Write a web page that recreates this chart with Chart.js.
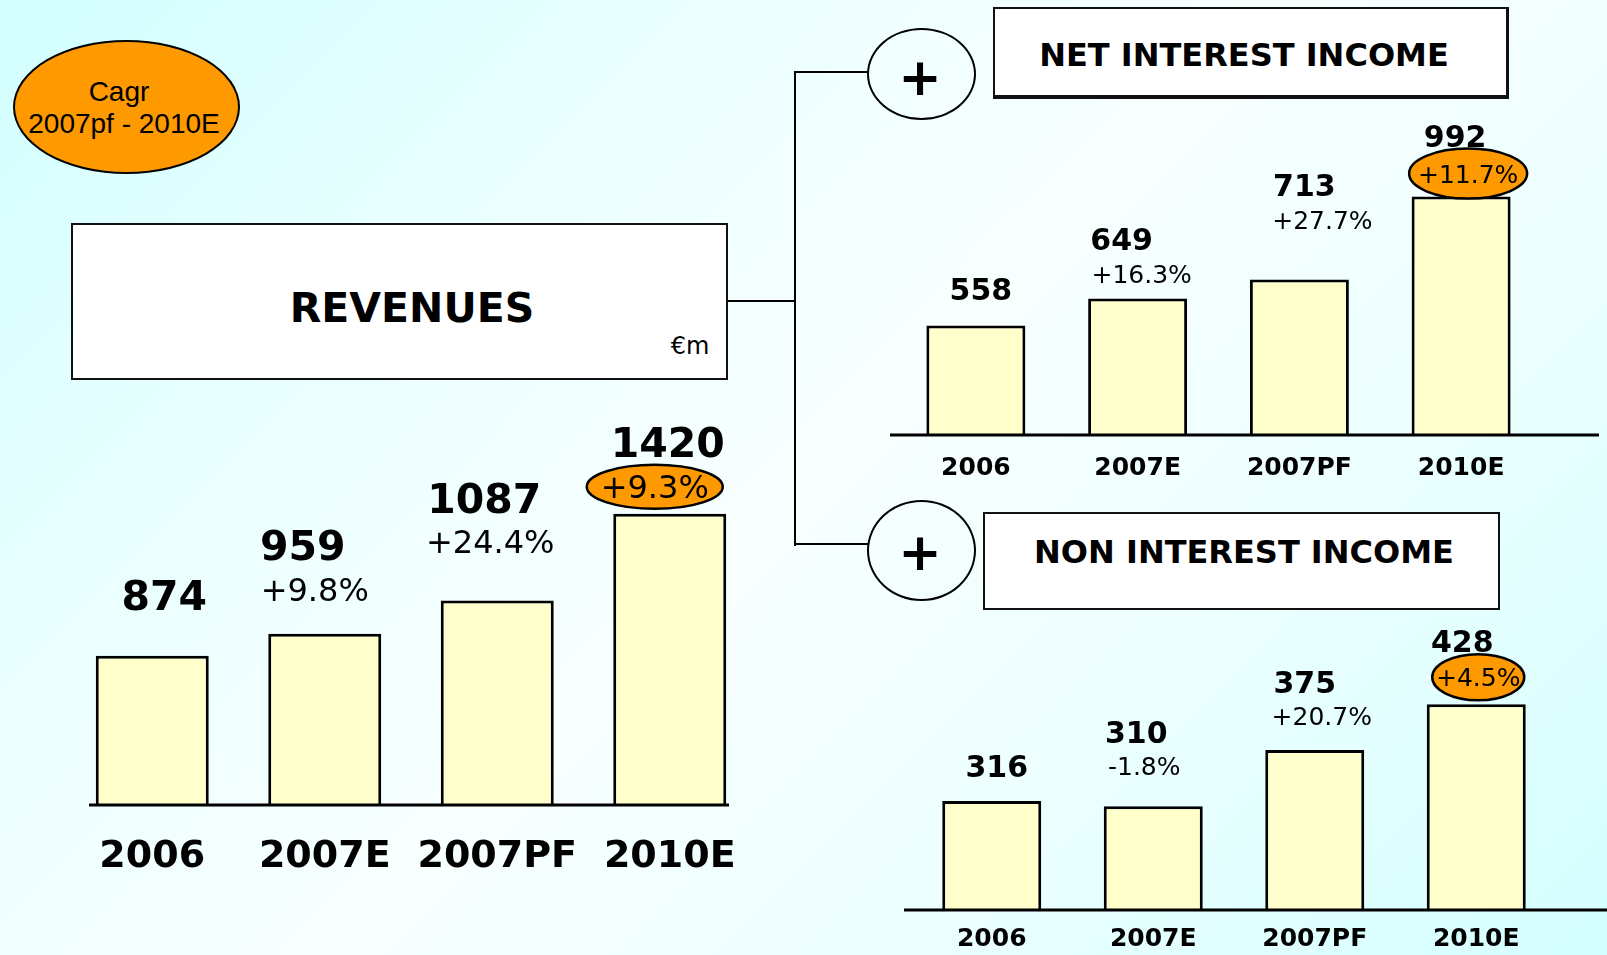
<!DOCTYPE html>
<html>
<head>
<meta charset="utf-8">
<script src="https://cdn.jsdelivr.net/npm/chart.js@4.4.1/dist/chart.umd.min.js"></script>
<style>
  html, body { margin: 0; padding: 0; }
  body {
    width: 1607px; height: 955px; position: relative; overflow: hidden;
    background: linear-gradient(135deg, #d2ffff 0%, #ebffff 28%, #f8ffff 50%, #ecffff 72%, #d4ffff 100%);
    font-family: "DejaVu Sans", sans-serif; color: #000;
  }
  canvas.layer { position: absolute; left: 0; top: 0; pointer-events: none; }
  .box { position: absolute; background: #fff; border: 2px solid #111; box-sizing: border-box; }
  .line { position: absolute; background: #000; }
  .oval { position: absolute; border: 2px solid #000; border-radius: 50%; box-sizing: border-box; }
  .ctext { position: absolute; transform: translate(-50%, -50%); white-space: nowrap; }
</style>
</head>
<body>
  <!-- CAGR badge -->
  <div class="oval" style="left:13px;top:40px;width:227px;height:134px;background:#ff9900;border-width:2.5px;"></div>
  <div class="ctext" style="left:119px;top:92px;font-family:'Liberation Sans';font-size:28px;">Cagr</div>
  <div class="ctext" style="left:124px;top:124px;font-family:'Liberation Sans';font-size:28px;">2007pf - 2010E</div>

  <!-- connectors -->
  <div class="line" style="left:728px;top:300px;width:68px;height:2px;"></div>
  <div class="line" style="left:794px;top:71px;width:2px;height:475px;"></div>
  <div class="line" style="left:794px;top:71px;width:74px;height:2px;"></div>
  <div class="line" style="left:794px;top:543px;width:74px;height:2px;"></div>

  <!-- Revenues title box -->
  <div class="box" style="left:71px;top:223px;width:657px;height:157px;"></div>
  <div class="ctext" style="left:412px;top:308px;font-weight:bold;font-size:41px;">REVENUES</div>
  <div class="ctext" style="left:690px;top:346px;font-size:24px;">€m</div>

  <!-- plus circles -->
  <div class="oval" style="left:867px;top:28px;width:109px;height:92px;"></div>
  <div class="ctext" style="left:920px;top:77px;font-weight:bold;font-size:52px;">+</div>
  <div class="oval" style="left:867px;top:500px;width:109px;height:101px;"></div>
  <div class="ctext" style="left:920px;top:552px;font-weight:bold;font-size:52px;">+</div>

  <!-- segment title boxes -->
  <div class="box" style="left:993px;top:7px;width:516px;height:92px;border-bottom-width:4px;border-right-width:3px;"></div>
  <div class="ctext" style="left:1244px;top:55px;font-weight:bold;font-size:32px;">NET INTEREST INCOME</div>
  <div class="box" style="left:983px;top:512px;width:517px;height:98px;"></div>
  <div class="ctext" style="left:1244px;top:552px;font-weight:bold;font-size:32px;">NON INTEREST INCOME</div>

  <canvas id="revChart" class="layer" width="1607" height="975"></canvas>
  <canvas id="niiChart" class="layer" width="1607" height="975"></canvas>
  <canvas id="nonChart" class="layer" width="1607" height="975"></canvas>

<script>
// ---------------- data ----------------
const categories = ['2006', '2007E', '2007PF', '2010E'];

const revenues        = [874, 959, 1087, 1420];
const revenuesGrowth  = [null, '+9.8%', '+24.4%', '+9.3%'];

const netInterestIncome       = [558, 649, 713, 992];
const netInterestIncomeGrowth = [null, '+16.3%', '+27.7%', '+11.7%'];

const nonInterestIncome       = [316, 310, 375, 428];
const nonInterestIncomeGrowth = [null, '-1.8%', '+20.7%', '+4.5%'];

// ---------------- drawing ----------------
const FONT = '"DejaVu Sans", sans-serif';
const CAP = 0.3645; // half cap-height of DejaVu Sans, in em

const slideLabels = {
  id: 'slideLabels',
  afterDatasetsDraw(chart, args, o) {
    const ctx = chart.ctx;
    const meta = chart.getDatasetMeta(0);
    const values = chart.data.datasets[0].data;
    const growth = o.growth;
    const ys = chart.scales.y;
    const yb = ys.getPixelForValue(ys.min);
    ctx.save();
    ctx.strokeStyle = '#000';
    ctx.lineWidth = o.baseWidth;
    ctx.beginPath();
    ctx.moveTo(o.baseFrom, yb);
    ctx.lineTo(o.baseTo, yb);
    ctx.stroke();

    ctx.textAlign = 'center';
    ctx.textBaseline = 'alphabetic';
    meta.data.forEach((bar, i) => {
      const top = bar.y;
      ctx.fillStyle = '#000';
      ctx.font = 'bold ' + o.valueSize + 'px ' + FONT;
      ctx.fillText(String(values[i]), bar.x + o.valDx[i], top - o.valDy[i] + CAP * o.valueSize);
      if (growth[i]) {
        const px = bar.x + o.pctDx[i];
        const py = top - o.pctDy[i];
        if (i === growth.length - 1) {
          ctx.beginPath();
          ctx.ellipse(px, py, o.ovalRx, o.ovalRy, 0, 0, Math.PI * 2);
          ctx.fillStyle = '#ff9900';
          ctx.fill();
          ctx.lineWidth = 2.5;
          ctx.strokeStyle = '#000';
          ctx.stroke();
        }
        ctx.fillStyle = '#000';
        ctx.font = o.pctSize + 'px ' + FONT;
        ctx.fillText(growth[i], px, py + CAP * o.pctSize);
      }
    });
    ctx.restore();
  }
};

function makeChart(id, values, growth, cfg) {
  return new Chart(document.getElementById(id), {
    type: 'bar',
    data: {
      labels: categories,
      datasets: [{
        data: values,
        backgroundColor: '#ffffcc',
        borderColor: '#000',
        borderWidth: cfg.borderWidth,
        borderSkipped: 'bottom',
        barPercentage: cfg.barPct,
        categoryPercentage: 1
      }]
    },
    options: {
      responsive: false,
      animation: false,
      events: [],
      layout: { padding: cfg.padding, autoPadding: false },
      plugins: {
        legend: { display: false },
        tooltip: { enabled: false },
        title: { display: false },
        slideLabels: Object.assign({ growth: growth }, cfg.labels)
      },
      scales: {
        x: {
          type: 'category',
          offset: true,
          grid: { display: false, drawTicks: false },
          border: { display: false },
          ticks: {
            color: '#000',
            padding: cfg.tickPad,
            maxRotation: 0,
            autoSkip: false,
            font: { family: FONT, size: cfg.tickSize, weight: 'bold', lineHeight: 1 }
          }
        },
        y: {
          display: false,
          min: cfg.yMin,
          max: cfg.yMax
        }
      }
    },
    plugins: [slideLabels]
  });
}

// Revenues
makeChart('revChart', revenues, revenuesGrowth, {
  yMin: 300, yMax: 1600,
  padding: { left: 66, right: 851, top: 467, bottom: 66 },
  tickPad: 33, tickSize: 38, barPct: 0.655, borderWidth: 3,
  labels: {
    baseFrom: 89, baseTo: 729, baseWidth: 3,
    valueSize: 41, pctSize: 32,
    valDx: [12, -22, -13, -2], valDy: [61, 89, 102, 72],
    pctDx: [0, -10, -7, -15], pctDy: [0, 44, 59, 27],
    ovalRx: 68, ovalRy: 22
  }
});

// Net interest income
makeChart('niiChart', netInterestIncome, netInterestIncomeGrowth, {
  yMin: 190, yMax: 1100,
  padding: { left: 895, right: 65, top: 164.5, bottom: 474 },
  tickPad: 20.5, tickSize: 25, barPct: 0.612, borderWidth: 3,
  labels: {
    baseFrom: 890, baseTo: 1599, baseWidth: 3,
    valueSize: 30, pctSize: 25,
    valDx: [5, -16, 5, -6], valDy: [37, 59, 94, 61],
    pctDx: [0, 4, 23, 7], pctDy: [0, 25, 60, 23],
    ovalRx: 59, ovalRy: 25
  }
});

// Non interest income
makeChart('nonChart', nonInterestIncome, nonInterestIncomeGrowth, {
  yMin: 190, yMax: 500,
  padding: { left: 911, right: 50, top: 642, bottom: 7 },
  tickPad: 16.5, tickSize: 25, barPct: 0.613, borderWidth: 3,
  labels: {
    baseFrom: 904, baseTo: 1607, baseWidth: 3,
    valueSize: 30, pctSize: 25,
    valDx: [5, -17, -10, -14], valDy: [35, 74, 68, 63],
    pctDx: [0, -9, 7, 2], pctDy: [0, 40, 34, 27],
    ovalRx: 46, ovalRy: 23
  }
});
</script>
</body>
</html>
